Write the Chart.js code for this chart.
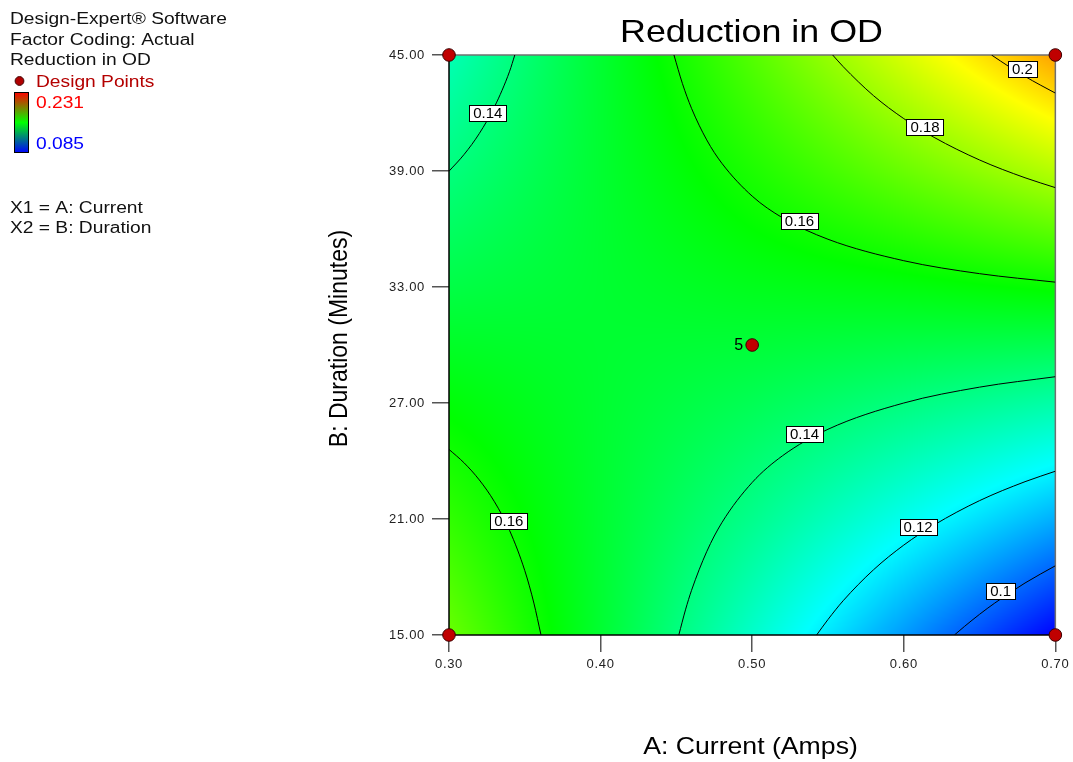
<!DOCTYPE html>
<html>
<head>
<meta charset="utf-8">
<title>Reduction in OD</title>
<script src="https://cdn.jsdelivr.net/npm/chart.js@4.4.1/dist/chart.umd.min.js"></script>
<style>
  html, body { margin: 0; padding: 0; background: #fff; }
  #odChart { display: block; }
</style>
</head>
<body>
<canvas id="odChart" width="1073" height="762"></canvas>
<script>
// factor axes (A: current, B: duration) and the fitted response
var currentAxis = [0.30, 0.40, 0.50, 0.60, 0.70];
var durationAxis = [15, 21, 27, 33, 39, 45];
// one row per duration, one column per current
var odGrid = [
    [0.173, 0.151, 0.129, 0.107, 0.085],
    [0.165, 0.151, 0.138, 0.124, 0.110],
    [0.157, 0.151, 0.146, 0.140, 0.134],
    [0.148, 0.151, 0.154, 0.156, 0.159],
    [0.140, 0.151, 0.162, 0.173, 0.184],
    [0.132, 0.151, 0.170, 0.189, 0.208]
];
var legendRange = [0.085, 0.231];

var currentTicks = [0.30, 0.40, 0.50, 0.60, 0.70];
var durationTicks = [15, 21, 27, 33, 39, 45];

// design points [A, B] and the replicate count at the centre
var designPoints = [[0.30, 15], [0.30, 45], [0.70, 45], [0.70, 15], [0.50, 30]];
var centreReplicates = 5;

// contour lines [A, B]
var contour014Upper = [[0.30, 38.99], [0.31, 39.86], [0.32, 40.94], [0.33, 42.32], [0.34, 44.16], [0.3434, 45.0]];
var contour016Upper = [[0.4484, 45.0], [0.454, 43.52], [0.46, 42.24], [0.47, 40.61], [0.48, 39.40], [0.50, 37.70], [0.52, 36.58], [0.55, 35.47], [0.60, 34.36], [0.65, 33.69], [0.70, 33.25]];
var contour018 = [[0.5531, 45.0], [0.56, 44.40], [0.58, 42.90], [0.60, 41.71], [0.62, 40.74], [0.65, 39.57], [0.68, 38.65], [0.70, 38.14]];
var contour020 = [[0.6579, 45.0], [0.67, 44.37], [0.68, 43.89], [0.69, 43.45], [0.70, 43.03]];
var contour016Lower = [[0.30, 24.60], [0.31, 23.90], [0.32, 23.02], [0.33, 21.89], [0.34, 20.40], [0.35, 18.33], [0.356, 16.65], [0.3607, 15.0]];
var contour014Lower = [[0.4516, 15.0], [0.456, 16.30], [0.46, 17.31], [0.47, 19.31], [0.48, 20.81], [0.50, 22.89], [0.52, 24.27], [0.55, 25.64], [0.60, 27.00], [0.65, 27.82], [0.70, 28.36]];
var contour012 = [[0.5425, 15.0], [0.55, 15.80], [0.56, 16.77], [0.58, 18.37], [0.60, 19.65], [0.62, 20.69], [0.65, 21.95], [0.68, 22.93], [0.70, 23.47]];
var contour010 = [[0.6334, 15.0], [0.64, 15.44], [0.65, 16.07], [0.66, 16.65], [0.68, 17.69], [0.70, 18.58]];

// contour labels
var labelTexts = ['0.14', '0.16', '0.18', '0.2', '0.14', '0.16', '0.12', '0.1'];
var labelCurrent = [0.3256, 0.5312, 0.614, 0.6783, 0.5345, 0.3394, 0.6094, 0.6639];
var labelDuration = [42.0, 36.41, 41.28, 44.28, 25.39, 20.89, 20.58, 17.27];

var FONT = '"Liberation Sans", Arial, Helvetica, sans-serif';
var rampStops = [[0, 0, 255], [0, 255, 255], [0, 255, 0], [255, 255, 0], [255, 0, 0]];

function findCell(axis, v) {
    var i = 0;
    while (i < axis.length - 2 && v > axis[i + 1]) i++;
    return i;
}

function surfaceValue(a, b) {
    var i = findCell(currentAxis, a), j = findCell(durationAxis, b);
    var ta = (a - currentAxis[i]) / (currentAxis[i + 1] - currentAxis[i]);
    var tb = (b - durationAxis[j]) / (durationAxis[j + 1] - durationAxis[j]);
    var lo = odGrid[j][i] + (odGrid[j][i + 1] - odGrid[j][i]) * ta;
    var hi = odGrid[j + 1][i] + (odGrid[j + 1][i + 1] - odGrid[j + 1][i]) * ta;
    return lo + (hi - lo) * tb;
}

function rampColor(v) {
    var t = (v - legendRange[0]) / (legendRange[1] - legendRange[0]);
    t = Math.max(0, Math.min(1, t)) * 4;
    var k = Math.min(3, Math.floor(t)), f = t - k;
    var c0 = rampStops[k], c1 = rampStops[k + 1];
    return [c0[0] + (c1[0] - c0[0]) * f, c0[1] + (c1[1] - c0[1]) * f, c0[2] + (c1[2] - c0[2]) * f];
}

// the reference draws its text a bit wide, so stretch it horizontally
function wideText(ctx, text, x, y, size, sx, color, align) {
    ctx.save();
    ctx.letterSpacing = '0px';
    ctx.font = size + 'px ' + FONT;
    ctx.fillStyle = color;
    ctx.textAlign = align || 'left';
    ctx.textBaseline = 'alphabetic';
    ctx.translate(x, y);
    ctx.scale(sx, 1);
    ctx.fillText(text, 0, 0);
    ctx.restore();
}

function toXY(points) {
    return points.map(function (p) { return {x: p[0], y: p[1]}; });
}

function contourSet(points) {
    return {
        data: toXY(points),
        showLine: true,
        borderColor: '#000',
        borderWidth: 1,
        pointRadius: 0,
        cubicInterpolationMode: 'monotone',
        fill: false,
        order: 1
    };
}

var surfacePlugin = {
    id: 'surface',
    beforeDraw: function (chart) {
        chart.ctx.letterSpacing = '0.7px';
    },
    beforeDatasetsDraw: function (chart) {
        var ctx = chart.ctx, ca = chart.chartArea;
        var xs = chart.scales.x, ys = chart.scales.y;
        var w = Math.round(ca.right - ca.left), h = Math.round(ca.bottom - ca.top);
        var img = ctx.createImageData(w, h);
        for (var j = 0; j < h; j++) {
            var b = ys.getValueForPixel(ca.top + j + 0.5);
            for (var i = 0; i < w; i++) {
                var a = xs.getValueForPixel(ca.left + i + 0.5);
                var c = rampColor(surfaceValue(a, b));
                var k = (j * w + i) * 4;
                img.data[k] = c[0];
                img.data[k + 1] = c[1];
                img.data[k + 2] = c[2];
                img.data[k + 3] = 255;
            }
        }
        ctx.putImageData(img, Math.round(ca.left), Math.round(ca.top));

        // frame: dark left/bottom, grey top/right
        ctx.save();
        ctx.lineWidth = 1.5;
        ctx.strokeStyle = '#707070';
        ctx.beginPath();
        ctx.moveTo(ca.left, ca.top);
        ctx.lineTo(ca.right, ca.top);
        ctx.lineTo(ca.right, ca.bottom);
        ctx.stroke();
        ctx.strokeStyle = '#000';
        ctx.beginPath();
        ctx.moveTo(ca.left, ca.top);
        ctx.lineTo(ca.left, ca.bottom);
        ctx.lineTo(ca.right, ca.bottom);
        ctx.stroke();
        ctx.restore();
    },
    afterDatasetsDraw: function (chart) {
        var ctx = chart.ctx;
        var xs = chart.scales.x, ys = chart.scales.y;
        ctx.save();
        ctx.letterSpacing = '0px';
        ctx.font = '15px ' + FONT;
        ctx.textAlign = 'center';
        ctx.textBaseline = 'middle';
        for (var n = 0; n < labelTexts.length; n++) {
            var px = xs.getPixelForValue(labelCurrent[n]);
            var py = ys.getPixelForValue(labelDuration[n]);
            var tw = ctx.measureText(labelTexts[n]).width;
            var bw = Math.round(tw + 8), bh = 16;
            var bx = Math.round(px - bw / 2) + 0.5, by = Math.round(py - bh / 2) + 0.5;
            ctx.fillStyle = '#fff';
            ctx.fillRect(bx, by, bw, bh);
            ctx.strokeStyle = '#000';
            ctx.lineWidth = 1;
            ctx.strokeRect(bx, by, bw, bh);
            ctx.fillStyle = '#000';
            ctx.fillText(labelTexts[n], px, py + 1);
        }
        // replicate count beside the centre point
        var centre = designPoints[4];
        ctx.font = '16px ' + FONT;
        ctx.textAlign = 'right';
        ctx.fillStyle = '#000';
        ctx.fillText(String(centreReplicates), xs.getPixelForValue(centre[0]) - 9, ys.getPixelForValue(centre[1]) + 1);
        ctx.restore();
    },
    afterDraw: function (chart) {
        var ctx = chart.ctx;
        ctx.letterSpacing = '0px';

        wideText(ctx, 'Reduction in OD', 751.5, 42, 32, 1.12, '#000', 'center');
        wideText(ctx, 'A: Current (Amps)', 750.5, 754, 24, 1.11, '#000', 'center');

        ctx.save();
        ctx.font = '23px ' + FONT;
        ctx.fillStyle = '#000';
        ctx.textAlign = 'center';
        ctx.textBaseline = 'alphabetic';
        ctx.translate(347, 338.5);
        ctx.rotate(-Math.PI / 2);
        ctx.scale(1, 1.15);
        ctx.fillText('B: Duration (Minutes)', 0, 0);
        ctx.restore();

        // notes block at top left
        wideText(ctx, 'Design-Expert\u00ae Software', 10, 24, 16, 1.2, '#111');
        wideText(ctx, 'Factor Coding: Actual', 10, 45, 16, 1.2, '#111');
        wideText(ctx, 'Reduction in OD', 10, 65, 16, 1.2, '#111');
        wideText(ctx, 'Design Points', 36, 87, 16, 1.2, '#b40000');
        wideText(ctx, legendRange[1].toFixed(3), 36, 108, 16, 1.2, '#ff0000');
        wideText(ctx, legendRange[0].toFixed(3), 36, 149, 16, 1.2, '#0000ff');
        wideText(ctx, 'X1 = A: Current', 10, 213, 16, 1.2, '#111');
        wideText(ctx, 'X2 = B: Duration', 10, 233, 16, 1.2, '#111');

        ctx.save();
        ctx.beginPath();
        ctx.arc(19.5, 81, 4.4, 0, Math.PI * 2);
        ctx.fillStyle = '#b00000';
        ctx.fill();
        ctx.strokeStyle = '#400000';
        ctx.lineWidth = 1;
        ctx.stroke();

        var grad = ctx.createLinearGradient(0, 92, 0, 153);
        grad.addColorStop(0, '#ff0000');
        grad.addColorStop(0.5, '#00ff00');
        grad.addColorStop(1, '#0000ff');
        ctx.fillStyle = grad;
        ctx.fillRect(14, 92, 15, 61);
        ctx.strokeStyle = '#000';
        ctx.strokeRect(14.5, 92.5, 14, 60);
        ctx.restore();
    }
};

var chart = new Chart(document.getElementById('odChart'), {
    type: 'scatter',
    data: {
        datasets: [
            {
                data: toXY(designPoints),
                backgroundColor: '#c00000',
                borderColor: '#3a0000',
                borderWidth: 1,
                pointRadius: 6.3,
                clip: false,
                order: 0
            },
            contourSet(contour014Upper),
            contourSet(contour016Upper),
            contourSet(contour018),
            contourSet(contour020),
            contourSet(contour016Lower),
            contourSet(contour014Lower),
            contourSet(contour012),
            contourSet(contour010)
        ]
    },
    options: {
        responsive: false,
        animation: false,
        events: [],
        layout: {padding: {top: 55, right: 15, bottom: 0, left: 0}},
        plugins: {
            legend: {display: false},
            tooltip: {enabled: false},
            title: {display: false}
        },
        scales: {
            x: {
                type: 'linear',
                min: 0.3,
                max: 0.7,
                afterFit: function (scale) { scale.height = 127; },
                afterBuildTicks: function (scale) {
                    scale.ticks = currentTicks.map(function (v) { return {value: v}; });
                },
                border: {display: false},
                grid: {drawOnChartArea: false, drawTicks: true, tickLength: 17, color: '#555', lineWidth: 1.5},
                ticks: {
                    padding: 5,
                    color: '#222',
                    font: {family: FONT, size: 13},
                    maxRotation: 0,
                    callback: function (v) { return Number(v).toFixed(2); }
                }
            },
            y: {
                type: 'linear',
                min: 15,
                max: 45,
                afterFit: function (scale) { scale.width = 449; },
                afterBuildTicks: function (scale) {
                    scale.ticks = durationTicks.map(function (v) { return {value: v}; });
                },
                border: {display: false},
                grid: {drawOnChartArea: false, drawTicks: true, tickLength: 17, color: '#555', lineWidth: 1.5},
                ticks: {
                    padding: 7,
                    color: '#222',
                    font: {family: FONT, size: 13},
                    callback: function (v) { return Number(v).toFixed(2); }
                }
            }
        }
    },
    plugins: [surfacePlugin]
});
</script>
</body>
</html>
